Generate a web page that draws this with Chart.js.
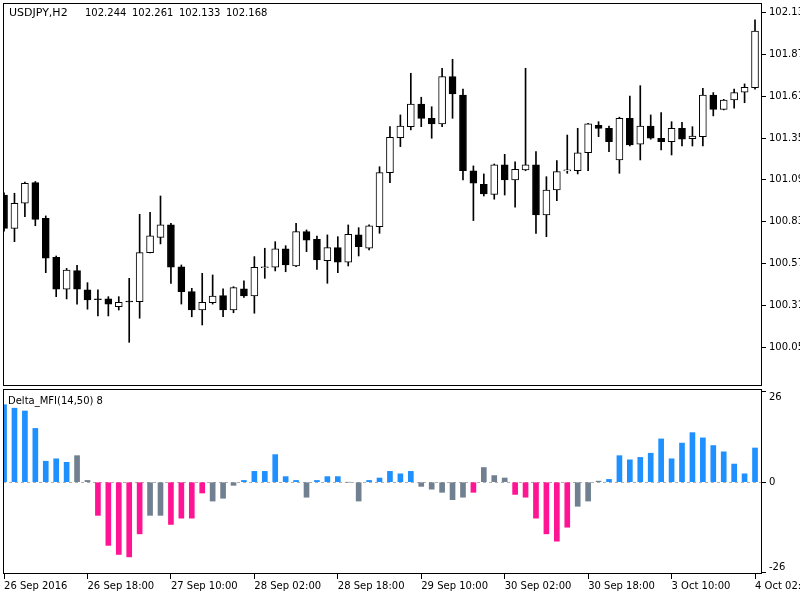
<!DOCTYPE html>
<html>
<head>
<meta charset="utf-8">
<script src="https://cdn.jsdelivr.net/npm/chart.js@4.4.0/dist/chart.umd.min.js"></script>
<style>
  html, body { margin: 0; padding: 0; background: #fff; }
  #wrap { position: relative; width: 800px; height: 600px; overflow: hidden; }
  canvas { position: absolute; left: 0; }
  #priceChart { top: 0; }
  #mfiChart { top: 388px; }
</style>
</head>
<body>
<div id="wrap">
  <canvas id="priceChart" width="800" height="388"></canvas>
  <canvas id="mfiChart" width="800" height="212"></canvas>
</div>
<script>
// USDJPY H2 candles, 26 Sep 02:00 .. 4 Oct 02:00 (73 bars)
const openP = [100.996, 100.789, 100.945, 101.073, 100.851, 100.609, 100.410, 100.526, 100.406, 100.351,
  100.350, 100.302, 100.337, 100.333, 100.638, 100.733, 100.810, 100.550, 100.395, 100.281,
  100.327, 100.370, 100.281, 100.412, 100.368, 100.544, 100.547, 100.661, 100.555, 100.768,
  100.721, 100.588, 100.669, 100.578, 100.748, 100.665, 100.799, 101.135, 101.353, 101.421,
  101.562, 101.473, 101.438, 101.732, 101.618, 101.147, 101.063, 101.000, 101.183, 101.090,
  101.152, 101.183, 100.872, 101.027, 101.146, 101.147, 101.259, 101.429, 101.411, 101.214,
  101.473, 101.312, 101.425, 101.349, 101.328, 101.411, 101.346, 101.359, 101.618, 101.529,
  101.587, 101.635, 101.664];
const highP = [101.009, 101.007, 101.077, 101.080, 100.866, 100.617, 100.540, 100.559, 100.451, 100.406,
  100.364, 100.364, 100.478, 100.876, 100.889, 100.990, 100.820, 100.561, 100.416, 100.509,
  100.499, 100.412, 100.426, 100.462, 100.613, 100.665, 100.706, 100.681, 100.820, 100.779,
  100.741, 100.748, 100.737, 100.810, 100.793, 100.810, 101.172, 101.421, 101.494, 101.753,
  101.604, 101.545, 101.784, 101.840, 101.654, 101.177, 101.127, 101.189, 101.249, 101.203,
  101.784, 101.266, 101.110, 101.210, 101.369, 101.411, 101.442, 101.452, 101.425, 101.480,
  101.612, 101.676, 101.494, 101.508, 101.452, 101.448, 101.421, 101.660, 101.633, 101.591,
  101.654, 101.687, 102.085];
const lowP = [100.772, 100.706, 100.861, 100.805, 100.513, 100.364, 100.350, 100.318, 100.286, 100.244,
  100.244, 100.281, 100.080, 100.230, 100.636, 100.692, 100.447, 100.318, 100.239, 100.188,
  100.318, 100.239, 100.264, 100.360, 100.261, 100.478, 100.524, 100.519, 100.550, 100.644,
  100.534, 100.447, 100.513, 100.555, 100.617, 100.654, 100.758, 101.073, 101.297, 101.401,
  101.421, 101.349, 101.421, 101.473, 101.090, 100.837, 100.990, 100.970, 100.996, 100.920,
  101.147, 100.758, 100.737, 100.961, 101.131, 101.127, 101.147, 101.359, 101.266, 101.131,
  101.301, 101.214, 101.343, 101.276, 101.245, 101.301, 101.301, 101.301, 101.488, 101.525,
  101.536, 101.570, 101.654];
const closeP = [100.789, 100.945, 101.069, 100.845, 100.603, 100.410, 100.530, 100.410, 100.343, 100.345,
  100.318, 100.329, 100.331, 100.638, 100.743, 100.810, 100.547, 100.395, 100.281, 100.329,
  100.368, 100.281, 100.420, 100.368, 100.547, 100.550, 100.661, 100.561, 100.768, 100.716,
  100.592, 100.669, 100.578, 100.752, 100.675, 100.804, 101.135, 101.355, 101.425, 101.562,
  101.473, 101.438, 101.732, 101.624, 101.147, 101.069, 101.003, 101.183, 101.090, 101.156,
  101.183, 100.872, 101.027, 101.141, 101.151, 101.259, 101.438, 101.410, 101.328, 101.473,
  101.307, 101.425, 101.349, 101.328, 101.411, 101.343, 101.363, 101.618, 101.529, 101.587,
  101.633, 101.666, 102.016];

// Delta_MFI histogram and its state (1 up, -1 down, 0 neutral)
const mfiValues = [22.2, 21.2, 20.4, 15.4, 6.0, 6.7, 5.7, 7.6, 0.5, -9.5,
  -18.1, -20.7, -21.4, -14.8, -9.5, -9.5, -12.1, -10.3, -10.3, -3.1,
  -5.4, -4.6, -0.9, 0.5, 3.1, 3.1, 7.9, 1.6, 0.5, -4.3,
  0.5, 1.6, 1.6, 0, -5.4, 0.5, 1.2, 3.1, 2.4, 3.1,
  -1.2, -2.0, -2.9, -5.0, -4.3, -2.9, 4.2, 1.9, 1.2, -3.5,
  -4.3, -10.3, -14.8, -16.9, -12.9, -6.9, -5.4, 0.3, 0.8, 7.6,
  6.4, 7.1, 8.3, 12.4, 6.7, 11.2, 14.2, 12.7, 10.5, 8.7,
  5.2, 2.4, 9.8];
const mfiState = [1, 1, 1, 1, 1, 1, 1, 0, 0, -1,
  -1, -1, -1, -1, 0, 0, -1, -1, -1, -1,
  0, 0, 0, 1, 1, 1, 1, 1, 1, 0,
  1, 1, 1, 0, 0, 1, 1, 1, 1, 1,
  0, 0, 0, 0, 0, -1, 0, 0, 0, -1,
  -1, -1, -1, -1, -1, 0, 0, 0, 1, 1,
  1, 1, 1, 1, 1, 1, 1, 1, 1, 1,
  1, 1, 1];

const timeTickIdx = [0, 8, 16, 24, 32, 40, 48, 56, 64, 72];
const timeTickText = ['26 Sep 2016', '26 Sep 18:00', '27 Sep 10:00', '28 Sep 02:00', '28 Sep 18:00',
  '29 Sep 10:00', '30 Sep 02:00', '30 Sep 18:00', '3 Oct 10:00', '4 Oct 02:00'];
const priceTicks = [100.05, 100.31, 100.57, 100.83, 101.09, 101.35, 101.61, 101.87, 102.13];
const mfiTicks = [-26, 0, 26];

const headerSymbol = 'USDJPY,H2';
const headerValues = ['102.244', '102.261', '102.133', '102.168'];
const indicatorText = 'Delta_MFI(14,50) 8';

const stateColor = { '1': '#1e90ff', '-1': '#ff1493', '0': '#708090' };
const font = { family: 'DejaVu Sans', size: 10 };
const xMin = -0.1, xMax = 72.67;
const idx = openP.map((_, i) => i);

// frame around the plot area plus the caption in its top-left corner
const framePlugin = {
  id: 'frame',
  afterDraw(chart, args, opts) {
    const { ctx, chartArea: a } = chart;
    ctx.save();
    ctx.strokeStyle = '#000';
    ctx.lineWidth = 1;
    ctx.strokeRect(Math.round(a.left) + 0.5, Math.round(a.top) + 0.5,
      Math.round(a.right - a.left) - 1, Math.round(a.bottom - a.top) - 1);
    ctx.fillStyle = '#000';
    ctx.textBaseline = 'middle';
    (opts.texts || []).forEach(t => {
      ctx.font = (t.size || 10) + 'px "DejaVu Sans"';
      ctx.fillText(t.text, t.x, t.y);
    });
    ctx.restore();
  }
};

const fixRight = s => { s.width = 38; s.paddingTop = 0; s.paddingBottom = 0; };

new Chart(document.getElementById('priceChart'), {
  type: 'bar',
  data: {
    datasets: [
      {
        data: idx.map(i => ({ x: i, y: [lowP[i], highP[i]] })),
        backgroundColor: '#000',
        borderWidth: 0,
        barThickness: 1,
        grouped: false,
        order: 2
      },
      {
        data: idx.map(i => ({ x: i, y: [openP[i], closeP[i]] })),
        backgroundColor: idx.map(i => closeP[i] >= openP[i] ? '#fff' : '#000'),
        borderColor: '#000',
        borderWidth: 1,
        borderSkipped: false,
        barThickness: 7,
        minBarLength: 1,
        grouped: false,
        order: 1
      }
    ]
  },
  options: {
    responsive: false,
    animation: false,
    layout: { padding: { left: 3, top: 3, right: 0, bottom: 2 } },
    plugins: {
      legend: { display: false },
      tooltip: { enabled: false },
      frame: {
        texts: [{ text: headerSymbol, x: 9, y: 13, size: 11 }]
          .concat(headerValues.map((v, i) => ({ text: v, x: 85 + i * 47, y: 13 })))
      }
    },
    scales: {
      x: { type: 'linear', min: xMin, max: xMax, offset: false, display: false },
      y: {
        position: 'right',
        min: 99.8085, max: 102.19,
        afterBuildTicks: s => { s.ticks = priceTicks.map(v => ({ value: v })); },
        afterFit: fixRight,
        grid: { drawOnChartArea: false, tickLength: 4, tickColor: '#000' },
        border: { display: false },
        ticks: { padding: 3, color: '#000', font: font, callback: v => v.toFixed(3) }
      }
    }
  },
  plugins: [framePlugin]
});

new Chart(document.getElementById('mfiChart'), {
  type: 'bar',
  data: {
    datasets: [{
      data: idx.map(i => ({ x: i, y: mfiValues[i] })),
      backgroundColor: mfiState.map(s => stateColor[s]),
      borderWidth: 0,
      barThickness: 5
    }]
  },
  options: {
    responsive: false,
    animation: false,
    layout: { padding: { left: 3, top: 1, right: 0, bottom: 0 } },
    plugins: {
      legend: { display: false },
      tooltip: { enabled: false },
      frame: { texts: [{ text: indicatorText, x: 8, y: 13 }] }
    },
    scales: {
      x: {
        type: 'linear', min: xMin, max: xMax, offset: false,
        afterBuildTicks: s => { s.ticks = timeTickIdx.map(v => ({ value: v })); },
        afterFit: s => { s.height = 26; s.paddingLeft = 0; s.paddingRight = 0; },
        grid: { drawOnChartArea: false, offset: false, tickLength: 5, tickColor: '#000' },
        border: { display: false },
        ticks: {
          autoSkip: false, maxRotation: 0, align: 'start', padding: 1,
          color: '#000', font: font,
          callback: v => timeTickText[timeTickIdx.indexOf(v)]
        }
      },
      y: {
        position: 'right',
        min: -26.3, max: 26.7,
        afterBuildTicks: s => { s.ticks = mfiTicks.map(v => ({ value: v })); },
        afterFit: fixRight,
        grid: {
          color: c => (c.tick && c.tick.value === 0) ? '#b0b0b0' : 'rgba(0,0,0,0)',
          tickColor: '#000', tickLength: 4
        },
        border: { display: false, dash: [3, 3] },
        ticks: {
          padding: 3, color: '#000', font: font,
          callback: v => v === 26 ? ['', '26'] : (v === -26 ? ['-26', ''] : String(v))
        }
      }
    }
  },
  plugins: [framePlugin]
});
</script>
</body>
</html>
